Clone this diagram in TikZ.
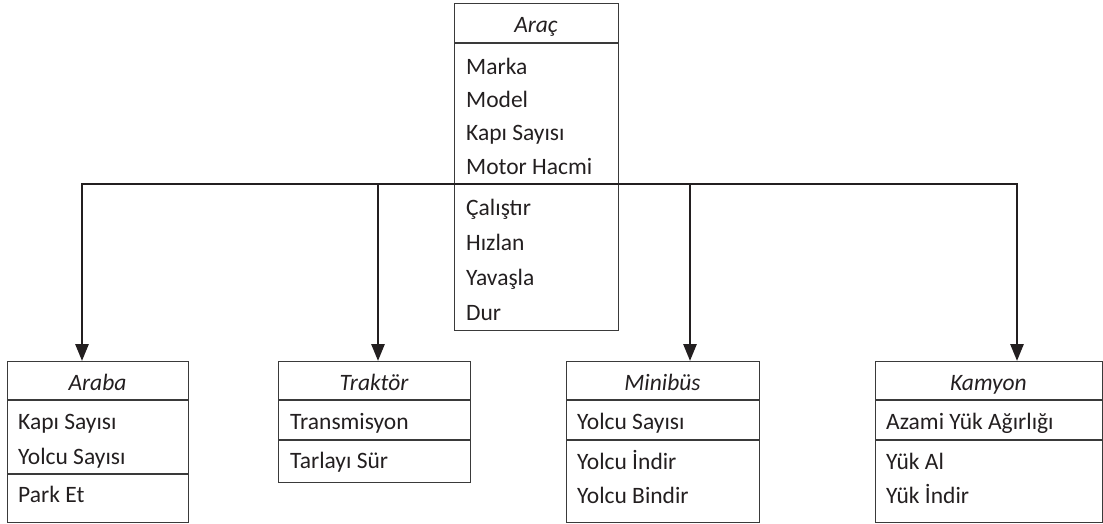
\documentclass[tikz,border=0pt]{standalone}
\usepackage{fontspec}
\setmainfont{Carlito}
\usetikzlibrary{arrows.meta}
\definecolor{boxgray}{HTML}{3A3A3A}
\definecolor{barblack}{HTML}{231F20}
\definecolor{txt}{HTML}{231F20}
\begin{document}
\begin{tikzpicture}[x=1pt,y=-1pt,
  classbox/.style={draw=boxgray, line width=1.4pt, anchor=north west, inner sep=0pt, fill=none},
  sepline/.style={draw=boxgray, line width=1.4pt},
  bar/.style={draw=barblack, line width=2.8pt, line cap=rect},
  conn/.style={draw=barblack, line width=2.8pt, -{Triangle[length=17pt,width=13pt]}},
  attr/.style={anchor=base west, inner sep=0pt, font=\fontsize{23.5}{28}\selectfont, text=txt},
  head/.style={anchor=base, inner sep=0pt, font=\fontsize{23.5}{28}\selectfont\itshape, text=txt},
]
\useasboundingbox (0,0) rectangle (1103,523);

% ---------- Araç ----------
\node[classbox, minimum width=164pt, minimum height=327pt] (arac) at (454,3) {};
\draw[sepline] (454,43) -- (618,43);
\node[head] (aracH) at (536,32) {Araç};
\node[attr] (a1) at (466,74) {Marka};
\node[attr] (a2) at (466,107) {Model};
\node[attr] (a3) at (466,140) {Kapı Sayısı};
\node[attr] (a4) at (466,174) {Motor Hacmi};
\node[attr] (a5) at (466,215) {Çalıştır};
\node[attr] (a6) at (466,250) {Hızlan};
\node[attr] (a7) at (466,285) {Yavaşla};
\node[attr] (a8) at (466,320) {Dur};

% ---------- Araba ----------
\node[classbox, minimum width=181pt, minimum height=161pt] (araba) at (7,361) {};
\draw[sepline] (7,400) -- (188,400);
\draw[sepline] (7,474) -- (188,474);
\node[head] (arabaH) at (97.5,390) {Araba};
\node[attr] (b1) at (18,429) {Kapı Sayısı};
\node[attr] (b2) at (18,464) {Yolcu Sayısı};
\node[attr] (b3) at (18,502) {Park Et};

% ---------- Traktör ----------
\node[classbox, minimum width=192pt, minimum height=121pt] (traktor) at (278,361) {};
\draw[sepline] (278,400) -- (470,400);
\draw[sepline] (278,440) -- (470,440);
\node[head] (traktorH) at (374,390) {Traktör};
\node[attr] (c1) at (290,429) {Transmisyon};
\node[attr] (c2) at (290,468) {Tarlayı Sür};

% ---------- Minibüs ----------
\node[classbox, minimum width=193pt, minimum height=161pt] (minibus) at (566,361) {};
\draw[sepline] (566,400) -- (759,400);
\draw[sepline] (566,440) -- (759,440);
\node[head] (minibusH) at (662.5,390) {Minibüs};
\node[attr] (d1) at (577,429) {Yolcu Sayısı};
\node[attr] (d2) at (577,469) {Yolcu İndir};
\node[attr] (d3) at (577,503) {Yolcu Bindir};

% ---------- Kamyon ----------
\node[classbox, minimum width=227pt, minimum height=161pt] (kamyon) at (875,361) {};
\draw[sepline] (875,400) -- (1102,400);
\draw[sepline] (875,440) -- (1102,440);
\node[head] (kamyonH) at (988.5,390) {Kamyon};
\node[attr] (e1) at (886,429) {Azami Yük Ağırlığı};
\node[attr] (e2) at (886,469) {Yük Al};
\node[attr] (e3) at (886,503) {Yük İndir};

% ---------- bar and connectors ----------
\coordinate (j1) at (82,184);
\coordinate (j2) at (378,184);
\coordinate (j3) at (690,184);
\coordinate (j4) at (1017,184);
\draw[bar] (j1) -- (j4);
\draw[conn] (j1) -- (j1 |- araba.north);
\draw[conn] (j2) -- (j2 |- traktor.north);
\draw[conn] (j3) -- (j3 |- minibus.north);
\draw[conn] (j4) -- (j4 |- kamyon.north);
\end{tikzpicture}
\end{document}
